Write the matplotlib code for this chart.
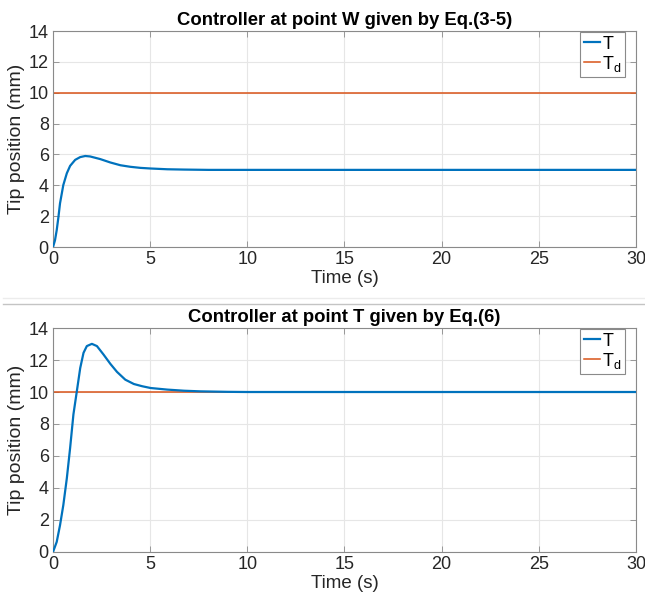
import numpy as np
import matplotlib
matplotlib.use("Agg")
import matplotlib.pyplot as plt
from matplotlib.lines import Line2D

# ---------------------------------------------------
# Data
# ---------------------------------------------------

t_w = [0, 0.1, 0.19, 0.28, 0.36, 0.53, 0.71, 0.88, 1.14, 1.4, 1.66, 1.91,
       2.43, 2.95, 3.47, 3.98, 4.5, 5.02, 5.88, 6.74, 8.0, 10.0, 30.0]
tip_w = [0, 0.43, 1.09, 1.96, 2.83, 4.02, 4.78, 5.26, 5.65, 5.83, 5.9, 5.87,
         5.7, 5.48, 5.3, 5.2, 5.13, 5.09, 5.04, 5.02, 5.0, 5.0, 5.0]

t_t = [0, 0.19, 0.36, 0.53, 0.71, 0.88, 1.05, 1.22, 1.4, 1.57, 1.74, 2.0,
       2.26, 2.6, 2.95, 3.29, 3.72, 4.16, 4.59, 5.02, 5.88, 6.74, 7.6, 9.0,
       10.0, 30.0]
tip_t = [0, 0.63, 1.67, 2.93, 4.6, 6.5, 8.6, 10.0, 11.5, 12.45, 12.87, 13.01,
         12.87, 12.34, 11.76, 11.26, 10.77, 10.5, 10.36, 10.25, 10.15, 10.08, 10.04, 10.01,
         10.0, 10.0]

t_ref = [0, 30]
tip_ref_w = [10, 10]
tip_ref_t = [10, 10]

titles = ["Controller at point W given by Eq.(3-5)",
          "Controller at point T given by Eq.(6)"]

# ---------------------------------------------------
# Figure
# ---------------------------------------------------

plt.rcParams["font.family"] = ["Liberation Sans", "DejaVu Sans"]

BLUE = "#0072BD"
ORANGE = "#D95319"
TXT = "#262626"
EDGE = "#8a8a8a"

fig = plt.figure(figsize=(6.45, 5.99), dpi=100)
ax_top = fig.add_axes([0.0822, 0.5876, 0.9038, 0.3606])
ax_bot = fig.add_axes([0.0822, 0.0785, 0.9038, 0.3739])

panels = [
    (ax_top, t_w, tip_w, tip_ref_w, titles[0]),
    (ax_bot, t_t, tip_t, tip_ref_t, titles[1]),
]

for ax, t, y, yref, title in panels:
    ax.plot(t, y, color=BLUE, lw=1.6, label="T", zorder=3,
            solid_joinstyle="round")
    ax.plot(t_ref, yref, color=ORANGE, lw=1.1, label="T$_\\mathregular{d}$", zorder=2)
    ax.set_xlim(0, 30)
    ax.set_ylim(0, 14)
    ax.set_xticks(range(0, 31, 5))
    ax.set_yticks(range(0, 15, 2))
    ax.grid(True, color="#e6e6e6", lw=0.8)
    ax.set_axisbelow(True)
    ax.tick_params(direction="in", top=True, right=True, labelsize=13,
                   colors=EDGE, labelcolor=TXT, length=4, width=0.6, pad=3)
    for s in ax.spines.values():
        s.set_color(EDGE)
        s.set_linewidth(0.8)
    ax.set_xlabel("Time (s)", fontsize=13.5, color=TXT, labelpad=1)
    ax.set_ylabel("Tip position (mm)", fontsize=14, color=TXT, labelpad=3)
    ax.set_title(title, fontsize=13.3, fontweight="bold", pad=4)
    leg = ax.legend(loc="upper right", bbox_to_anchor=(0.982, 0.995),
                    fontsize=13, handlelength=0.9,
                    handletextpad=0.15, borderpad=0.2, labelspacing=0.05,
                    fancybox=False, framealpha=1, borderaxespad=0.0)
    leg.get_frame().set_edgecolor(EDGE)
    leg.get_frame().set_linewidth(0.8)

# separator lines between the two panels
fig.add_artist(Line2D([0.005, 1.0], [1 - 298 / 599] * 2, color="#ececec", lw=1))
fig.add_artist(Line2D([0.005, 1.0], [1 - 304 / 599] * 2, color="#c4c4c4", lw=1))

fig.savefig("out.png", dpi=100)
